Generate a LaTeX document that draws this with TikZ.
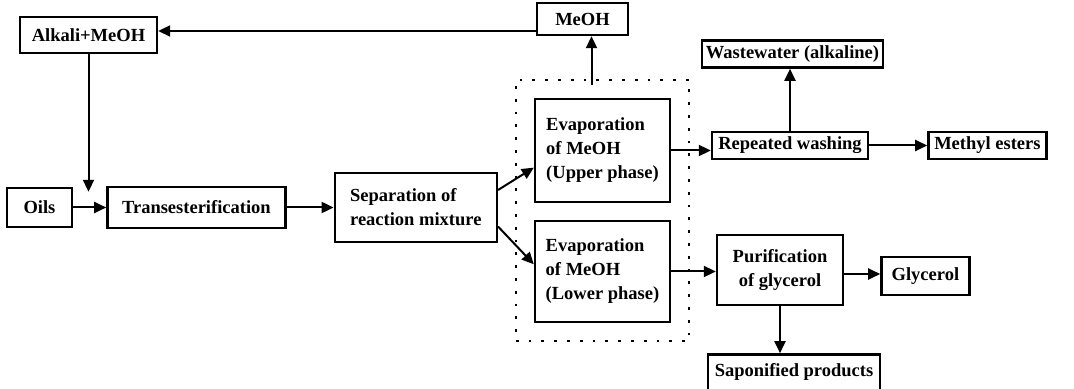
\documentclass[tikz,border=0pt]{standalone}
\usepackage{fontspec}
\setmainfont{Liberation Serif}
\usetikzlibrary{arrows.meta, positioning, fit, calc}

\begin{document}
\begin{tikzpicture}[
  font          = \fontsize{9.25}{12}\selectfont\bfseries,
  %
  % ── Node styles ─────────────────────────────────────────────────
  box/.style      = {draw, line width=1.2pt, inner sep=2pt, align=center},
  lbox/.style     = {box, align=left},
  arrow/.style    = {-{Triangle[length=6pt, width=5.5pt]}, line width=1pt},
  phasegroup/.style = {draw, line width=1pt, dash pattern=on 1.4pt off 5pt,
                       inner sep=9pt},
]

\useasboundingbox (0,0) rectangle (537pt,-194.5pt);

%% ═══════════════════════════════════════════════════════════════════
%% LEFT — feed and reaction
%% ═══════════════════════════════════════════════════════════════════

\node[box, minimum width=68.5pt, minimum height=18pt]
  (alkali) at (44.25pt,-17.5pt) {Alkali+MeOH};

\node[box, minimum width=32.5pt, minimum height=19.5pt]
  (oils) at (19.75pt,-103.75pt) {Oils};

\node[box, minimum width=89pt, minimum height=20.5pt,
      right=16.5pt of oils] (trans) {Transesterification};

\node[lbox, minimum width=81pt, minimum height=34.5pt,
      right=23.5pt of trans] (sep)
  {Separation of\\reaction mixture};

%% ── Arrows ───────────────────────────────────────────────────────
\draw[arrow] (oils) -- (trans);
\draw[arrow] (trans) -- (sep);
\draw[arrow] (alkali.south) -- ($(alkali.south |- oils.north)+(0,-2.5pt)$);

%% ═══════════════════════════════════════════════════════════════════
%% MIDDLE — methanol recovery (dotted group)
%% ═══════════════════════════════════════════════════════════════════

\node[lbox, minimum width=67.5pt, minimum height=51.5pt]
  (ev-up) at (301.25pt,-75.25pt)
  {Evaporation\\of MeOH\\(Upper phase)};

\node[lbox, minimum width=67.5pt, minimum height=50.5pt]
  (ev-lo) at (301.25pt,-135.75pt)
  {Evaporation\\of MeOH\\(Lower phase)};

\node[phasegroup, fit=(ev-up)(ev-lo)] (grp) {};

\node[box, minimum width=45.5pt, minimum height=16pt]
  (meoh) at (291.25pt,-9.5pt) {MeOH};

%% ── Arrows ───────────────────────────────────────────────────────
\draw[arrow] (sep.12)  -- (ev-up.194);
\draw[arrow] (sep.-13) -- (ev-lo.174);
\draw[arrow] ($(meoh.south |- grp.north)+(4.5pt,-3pt)$) -- ($(meoh.south)+(4.5pt,0)$);
% recycled methanol back to the catalyst
\draw[arrow] ($(meoh.west)+(0,-6pt)$) -- ($(alkali.east)+(0,2pt)$);

%% ═══════════════════════════════════════════════════════════════════
%% RIGHT TOP — ester phase
%% ═══════════════════════════════════════════════════════════════════

\node[box, minimum width=78pt, minimum height=13.5pt]
  (wash) at (395pt,-72.75pt) {Repeated washing};

\node[box, minimum width=88pt, minimum height=13.5pt,
      above=31pt of wash, xshift=1.25pt] (waste)
  {Wastewater (alkaline)};

\node[box, minimum width=59pt, minimum height=13.5pt,
      right=29pt of wash] (methyl) {Methyl esters};

%% ── Arrows ───────────────────────────────────────────────────────
\draw[arrow] (ev-up.east) -- (ev-up.east -| wash.west);
\draw[arrow] (wash.north) -- (wash.north |- waste.south);
\draw[arrow] (wash) -- (methyl);

%% ═══════════════════════════════════════════════════════════════════
%% RIGHT BOTTOM — glycerol phase
%% ═══════════════════════════════════════════════════════════════════

\node[box, minimum width=63pt, minimum height=35pt]
  (purif) at (390pt,-135pt) {Purification\\of glycerol};

\node[box, minimum width=44pt, minimum height=19pt,
      right=18pt of purif, yshift=-3pt] (glyc) {Glycerol};

\node[box, minimum width=86pt, minimum height=18pt,
      below=23.5pt of purif, xshift=7pt] (sapon) {Saponified products};

%% ── Arrows ───────────────────────────────────────────────────────
\draw[arrow] (ev-lo.east) -- (ev-lo.east -| purif.west);
\draw[arrow] ($(purif.east)+(0,-2pt)$) -- ($(purif.east -| glyc.west)+(0,-2pt)$);
\draw[arrow] (purif.south) -- (purif.south |- sapon.north);

\end{tikzpicture}
\end{document}
